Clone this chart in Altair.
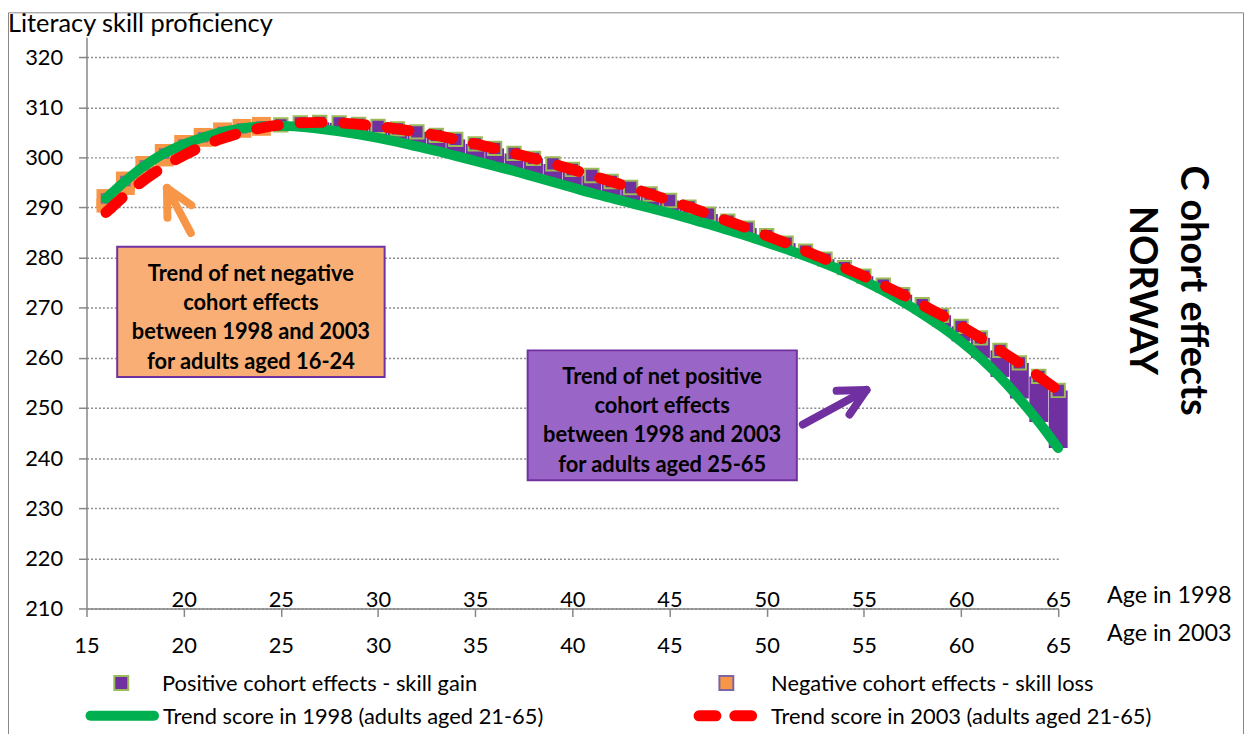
import math
import altair as alt
import numpy as np
import pandas as pd

# ---------------- data ----------------
ages = list(range(16, 66))
score_1998 = [291.8, 295.3, 298.4, 300.8, 302.6, 304.0, 305.1, 305.8, 306.2, 306.3,
              306.1, 305.7, 305.2, 304.6, 303.9, 303.1, 302.2, 301.3, 300.3, 299.3,
              298.3, 297.3, 296.2, 295.1, 294.0, 292.9, 291.9, 290.9, 289.9, 288.9,
              287.8, 286.7, 285.5, 284.3, 283.0, 281.7, 280.3, 278.8, 277.2, 275.4,
              273.4, 271.2, 268.8, 266.2, 263.3, 260.0, 256.2, 251.9, 247.2, 242.0]
score_2003 = [289.0, 292.5, 295.6, 298.2, 300.4, 302.3, 303.8, 305.0, 305.9, 306.5,
              306.9, 307.0, 306.9, 306.6, 306.2, 305.7, 305.1, 304.4, 303.6, 302.7,
              301.8, 300.8, 299.8, 298.7, 297.6, 296.4, 295.2, 294.0, 292.7, 291.4,
              290.1, 288.7, 287.3, 285.9, 284.4, 282.9, 281.3, 279.7, 278.0, 276.3,
              274.5, 272.6, 270.6, 268.5, 266.3, 264.0, 261.5, 259.0, 256.3, 253.5]

x_ticks_1998 = [20, 25, 30, 35, 40, 45, 50, 55, 60, 65]
x_ticks_2003 = [15, 20, 25, 30, 35, 40, 45, 50, 55, 60, 65]
y_ticks = [210, 220, 230, 240, 250, 260, 270, 280, 290, 300, 310, 320]

y_title = "Literacy skill proficiency"
x_title_1998 = "Age in 1998"
x_title_2003 = "Age in 2003"
side_title = ["C ohort effects", "NORWAY"]

legend_labels = ["Positive cohort effects - skill gain",
                 "Negative cohort effects - skill loss",
                 "Trend score in 1998 (adults aged 21-65)",
                 "Trend score in 2003 (adults aged 21-65)"]

# annotation boxes (age range, score range, position of first text line)
neg_box = {"x": 16.58, "x2": 30.34, "y": 256.2, "y2": 282.2, "cx": 23.46, "cy": 276.8}
neg_box_text = ["Trend of net negative", "cohort effects", "between 1998 and 2003",
                "for adults aged 16-24"]
pos_box = {"x": 37.70, "x2": 51.55, "y": 235.6, "y2": 261.5, "cx": 44.62, "cy": 256.2}
pos_box_text = ["Trend of net positive", "cohort effects", "between 1998 and 2003",
                "for  adults aged 25-65"]

# arrows: tail (age, score) -> tip (age, score)
neg_arrow = (20.37, 284.9, 19.14, 293.9)
pos_arrow = (51.86, 246.7, 55.13, 253.6)

# ---------------- styling ----------------
FONT = "Lato"
ORANGE = "#F79646"
PURPLE = "#7030A0"
GREEN = "#00B050"
RED = "#FF0000"
OLIVE = "#9BBB59"
LAVENDER = "#8064A2"
GRAY = "#868686"

W, H = 978, 575
X_DOMAIN = [15, 65]
Y_DOMAIN = [210, 324]

df = pd.DataFrame({"age": ages, "s1998": score_1998, "s2003": score_2003})
df["effect"] = np.where(df["s2003"] >= df["s1998"], "positive", "negative")

xs = alt.Scale(domain=X_DOMAIN, nice=False, zero=False)
ys = alt.Scale(domain=Y_DOMAIN, nice=False, zero=False)

y_axis = alt.Axis(values=y_ticks, title=None, labelFont=FONT, labelFontSize=22,
                  labelColor="black", labelPadding=16, tickColor=GRAY, tickSize=8,
                  tickWidth=1.5, domainColor=GRAY, domainWidth=1.5, grid=True,
                  gridColor="#8c8c8c", gridDash=[2, 2], gridWidth=1.5)

bottom_axis = alt.Axis(values=x_ticks_2003, orient="bottom", title=None, labelFont=FONT,
                       labelFontSize=22, labelColor="black", labelPadding=19,
                       labelFlush=False, tickColor=GRAY, tickSize=8, tickWidth=1.5,
                       domainColor=GRAY, domainWidth=1.5, grid=False)

top_axis = alt.Axis(values=x_ticks_1998, orient="top", offset=-H, title=None,
                    labelFont=FONT, labelFontSize=22, labelColor="black",
                    labelPadding=-3, labelFlush=False, domain=False, ticks=False,
                    grid=False)


def X(field, axis=None):
    if axis is None:
        return alt.X(field, type="quantitative", scale=xs, axis=None)
    return alt.X(field, type="quantitative", scale=xs, axis=axis)


def Y(field):
    return alt.Y(field, type="quantitative", scale=ys, axis=y_axis)


base = alt.Chart(df)
one = pd.DataFrame({"k": [0]})

# frame around the whole chart
frame = alt.Chart(one).mark_rect(fill="transparent", stroke=GRAY, strokeWidth=1).encode(
    x=alt.value(-78.5), x2=alt.value(1164.5), y=alt.value(-24.5), y2=alt.value(730))

neg = base.transform_filter(alt.datum.effect == "negative")
pos = base.transform_filter(alt.datum.effect == "positive")

neg_bars = neg.mark_rule(color=ORANGE, strokeWidth=19).encode(
    x=X("age"), y=Y("s2003"), y2="s1998")
neg_squares = neg.mark_square(size=361, color=ORANGE, opacity=1).encode(
    x=X("age"), y=Y("s1998"))
pos_bars = pos.mark_rule(color=PURPLE, strokeWidth=19).encode(
    x=X("age"), y=Y("s2003"), y2="s1998")
neg_inner = neg.mark_square(size=81, fill=ORANGE, stroke=LAVENDER, strokeWidth=1.5,
                            opacity=1, fillOpacity=1).encode(x=X("age"), y=Y("s1998"))
pos_squares = pos.mark_square(size=180, fill=PURPLE, stroke=OLIVE, strokeWidth=2,
                              opacity=1, fillOpacity=1).encode(x=X("age"), y=Y("s2003"))

green_line = base.mark_line(color=GREEN, strokeWidth=10, strokeCap="round",
                            interpolate="monotone").encode(
    x=X("age", bottom_axis), y=Y("s1998"))
red_line = base.mark_line(color=RED, strokeWidth=11, strokeCap="round",
                          strokeDash=[22, 22], interpolate="monotone").encode(
    x=X("age", top_axis), y=Y("s2003"))

# boxes
boxes_df = pd.DataFrame([
    dict(neg_box, fill="#F9AE76", name="neg"),
    dict(pos_box, fill="#9966C8", name="pos"),
])
boxes = alt.Chart(boxes_df).mark_rect(stroke=PURPLE, strokeWidth=2, opacity=1).encode(
    x=X("x"), x2="x2", y=Y("y"), y2="y2",
    fill=alt.Fill("fill:N", scale=None))

neg_text = alt.Chart(pd.DataFrame([neg_box])).mark_text(
    text=neg_box_text, font=FONT, fontSize=22, fontWeight="bold", color="black",
    lineHeight=29.5, align="center", baseline="middle").encode(x=X("cx"), y=Y("cy"))
pos_text = alt.Chart(pd.DataFrame([pos_box])).mark_text(
    text=pos_box_text, font=FONT, fontSize=22, fontWeight="bold", color="black",
    lineHeight=29.5, align="center", baseline="middle").encode(x=X("cx"), y=Y("cy"))

# arrows with open heads
PX_X = W / (X_DOMAIN[1] - X_DOMAIN[0])
PX_Y = H / (Y_DOMAIN[1] - Y_DOMAIN[0])


def arrow_segments(arrow, color, barb=30, spread=27):
    tx, ty, hx, hy = arrow
    dx = (tx - hx) * PX_X
    dy = -(ty - hy) * PX_Y
    ang = math.atan2(dy, dx)
    segs = [dict(x=tx, y=ty, x2=hx, y2=hy, c=color)]
    for s in (-spread, spread):
        a = ang + math.radians(s)
        bx = hx + barb * math.cos(a) / PX_X
        by = hy - barb * math.sin(a) / PX_Y
        segs.append(dict(x=hx, y=hy, x2=bx, y2=by, c=color))
    return segs


arrows_df = pd.DataFrame(arrow_segments(neg_arrow, ORANGE) + arrow_segments(pos_arrow, PURPLE))
arrows = alt.Chart(arrows_df).mark_rule(strokeWidth=8, strokeCap="round").encode(
    x=X("x"), x2="x2", y=Y("y"), y2="y2", color=alt.Color("c:N", scale=None))


def label(text, x, y, size=22, align="left", **kw):
    return alt.Chart(one).mark_text(text=text, font=FONT, fontSize=size, align=align,
                                    baseline="middle", color="black", **kw).encode(
        x=alt.value(x), y=alt.value(y))


t_y = label(y_title, -79, -13, size=25.5)
t_1998 = label(x_title_1998, 1027, 563, size=23.5)
t_2003 = label(x_title_2003, 1027, 601, size=23.5)
t_side = label(side_title, 1113, 255, size=38, align="center", angle=90,
               fontWeight="bold", lineHeight=52)

# legend
leg_sq1 = alt.Chart(one).mark_square(size=196, fill=PURPLE, stroke=OLIVE, strokeWidth=2,
                                     opacity=1).encode(x=alt.value(35), y=alt.value(650))
leg_sq2 = alt.Chart(one).mark_square(size=196, fill=ORANGE, stroke=LAVENDER, strokeWidth=2,
                                     opacity=1).encode(x=alt.value(644), y=alt.value(650))
leg_green = alt.Chart(one).mark_rule(color=GREEN, strokeWidth=10, strokeCap="round").encode(
    x=alt.value(4), x2=alt.value(68), y=alt.value(683))
leg_red = alt.Chart(one).mark_rule(color=RED, strokeWidth=11, strokeCap="round",
                                   strokeDash=[17, 19]).encode(
    x=alt.value(616.5), x2=alt.value(669.5), y=alt.value(683))
leg_t1 = label(legend_labels[0], 76, 651)
leg_t2 = label(legend_labels[1], 689, 651)
leg_t3 = label(legend_labels[2], 77, 684)
leg_t4 = label(legend_labels[3], 689, 684)

chart = alt.layer(
    frame, neg_bars, neg_squares, pos_bars, neg_inner, pos_squares, green_line, red_line,
    boxes, neg_text, pos_text, arrows, t_y, t_1998, t_2003, t_side,
    leg_sq1, leg_sq2, leg_green, leg_red, leg_t1, leg_t2, leg_t3, leg_t4,
).resolve_axis(x="independent").properties(
    width=W, height=H,
    autosize=alt.AutoSizeParams(type="none"),
    padding={"left": 79, "top": 27, "right": 189, "bottom": 124},
    background="white",
).configure_view(stroke=None)

chart.save("out.html", embed_options={"renderer": "svg", "actions": False})
